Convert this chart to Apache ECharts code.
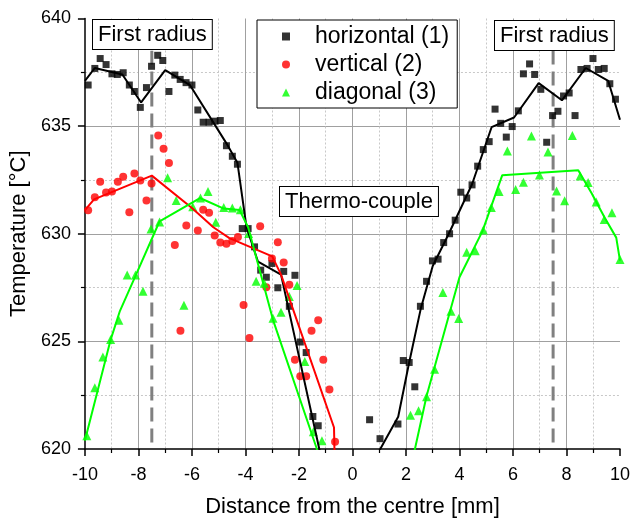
<!DOCTYPE html>
<html>
<head>
<meta charset="utf-8">
<script src="https://cdn.jsdelivr.net/npm/echarts@6/dist/echarts.min.js"></script>
<style>html,body{margin:0;padding:0;background:#fff}#c{width:633px;height:523px}</style>
</head>
<body>
<div id="c"></div>
<script>
// ---- data ----
var horizontalPts = [[-9.88,636.91],[-9.63,637.68],[-9.43,638.14],[-9.21,637.86],[-8.99,637.43],[-8.79,637.40],[-8.57,637.48],[-8.34,636.91],[-8.15,636.61],[-7.93,635.87],[-7.70,636.79],[-7.51,637.78],[-7.28,638.29],[-7.09,638.05],[-6.86,636.61],[-6.64,637.37],[-6.44,637.17],[-6.22,637.02],[-6.00,636.91],[-5.78,635.75],[-5.58,635.18],[-5.36,635.18],[-5.14,635.23],[-4.94,635.26],[-4.71,634.09],[-4.49,633.60],[-4.30,633.23],[-4.12,630.24],[-3.90,630.24],[-3.66,629.39],[-3.43,628.31],[-3.22,627.98],[-3.01,628.62],[-2.79,627.49],[-2.57,628.25],[-2.36,626.63],[-2.15,628.07],[-1.95,624.97],[-1.73,624.48],[-1.48,621.51],[-1.28,621.08],
  [0.64,621.36],[1.03,620.48],[1.70,621.16],[1.90,624.11],[2.12,624.02],[2.33,622.89],[2.54,626.63],[2.77,627.79],[2.99,628.74],[3.20,628.82],[3.41,629.59],[3.63,630.00],[3.84,630.63],[4.05,631.93],[4.27,631.66],[4.47,632.27],[4.68,633.14],[4.89,633.91],[5.11,634.28],[5.33,635.79],[5.54,635.13],[5.75,634.49],[5.97,634.98],[6.20,635.71],[6.39,637.43],[6.62,637.89],[6.81,637.40],[7.04,636.71],[7.26,634.25],[7.48,635.49],[7.68,635.69],[7.89,636.40],[8.10,636.54],[8.32,635.49],[8.54,637.63],[8.77,637.68],[8.99,638.14],[9.19,637.63],[9.41,637.68],[9.62,636.97],[9.83,636.25]];
var verticalPts = [[-9.88,631.09],[-9.63,631.70],[-9.43,632.42],[-9.21,631.92],[-8.99,631.96],[-8.77,632.42],[-8.57,632.65],[-8.34,631.00],[-8.15,632.80],[-7.93,632.47],[-7.70,631.55],[-7.51,632.34],[-7.26,634.57],[-7.06,633.95],[-6.86,633.29],[-6.64,629.48],[-6.43,625.49],[-6.21,630.38],[-5.78,630.15],[-5.58,631.12],[-5.36,630.97],[-5.15,629.92],[-4.94,629.59],[-4.71,629.54],[-4.49,629.66],[-4.28,629.85],[-4.07,626.69],[-3.85,625.16],[-3.45,630.35],[-3.22,627.51],[-3.01,628.85],[-2.79,629.60],[-2.57,628.67],[-2.36,627.63],[-2.15,624.15],[-1.95,623.38],[-1.73,623.38],[-1.53,625.49],[-1.28,625.98],[-1.09,624.15],[-0.86,622.76],[-0.65,620.34]];
var diagonalPts = [[-9.93,620.62],[-9.63,622.84],[-9.33,624.27],[-9.04,625.09],[-8.73,625.98],[-8.42,628.08],[-8.11,628.08],[-7.83,627.33],[-7.53,630.22],[-7.21,630.55],[-6.91,632.60],[-6.59,631.55],[-6.30,626.68],[-5.97,631.25],[-5.68,631.66],[-5.40,631.96],[-5.11,630.54],[-4.81,631.22],[-4.49,631.20],[-4.19,631.12],[-3.88,630.01],[-3.60,627.79],[-3.30,627.70],[-2.97,626.08],[-2.67,626.35],[-2.36,627.09],[-2.07,627.60],[-1.78,624.06],[-1.46,620.80],[-1.14,620.38],
  [2.17,621.57],[2.47,621.78],[2.77,622.43],[3.07,623.71],[3.38,627.27],[3.68,626.40],[3.97,626.06],[4.27,629.14],[4.59,629.21],[4.89,630.18],[5.19,631.22],[5.48,631.96],[5.79,633.85],[6.10,632.05],[6.39,632.39],[6.69,634.54],[6.99,632.73],[7.31,633.80],[7.63,631.99],[7.93,631.53],[8.22,634.56],[8.51,632.68],[8.81,632.38],[9.11,631.47],[9.41,630.66],[9.70,630.97],[10.0,628.80]];
// fitted curves (left / right branches)
var horizontalFitL = [[-10,637.1],[-9.63,637.7],[-8.6,637.4],[-7.9,636.1],[-7.0,637.6],[-6.07,636.9],[-4.71,634.2],[-4.3,633.3],[-3.96,630.3],[-3.53,628.7],[-2.67,628.1],[-1.24,620.0],[-1.2,619.8]];
var horizontalFitR = [[0.95,619.8],[1.71,621.5],[2.1,623.9],[2.55,626.5],[3.0,628.5],[3.6,630.0],[4.47,632.3],[5.2,634.95],[6.04,635.4],[6.96,637.0],[7.83,636.2],[8.72,637.7],[9.56,637.1],[10,635.3]];
var verticalFit = [[-10,631.1],[-9.66,631.6],[-7.5,632.7],[-6.0,631.2],[-5.2,630.3],[-4.6,629.8],[-3.0,628.95],[-2.67,628.1],[-0.69,621.0],[-0.67,619.8]];
var diagonalFitL = [[-10,620.4],[-9.04,625.07],[-8.69,626.42],[-8.11,628.04],[-7.21,630.58],[-5.70,631.66],[-4.81,631.17],[-4.22,631.1],[-3.9,630.3],[-2.97,626.0],[-1.33,620.0],[-1.28,619.8]];
var diagonalFitR = [[2.3,619.8],[2.77,622.46],[4.0,627.98],[4.86,630.12],[5.6,632.72],[8.44,632.95],[8.94,631.88],[9.43,630.74],[9.86,629.82],[10,628.75]];
var firstRadiusL = [[-7.5,620.3],[-7.5,638.5]];
var firstRadiusR = [[7.5,620.3],[7.5,638.5]];
var seriesNames = ['horizontal (1)','vertical (2)','diagonal (3)'];
var annotationTexts = ['First radius','First radius','Thermo-couple'];

var FONT = '"Liberation Sans", Arial, sans-serif';
var GREEN = '#00ff00';
var chart = echarts.init(document.getElementById('c'), null, {renderer:'canvas'});

function axisCommon() {
  return {
    axisLine:{show:true, onZero:false, lineStyle:{color:'#000', width:1.5}},
    axisTick:{show:true, inside:false, length:7, lineStyle:{color:'#000', width:1.5}},
    minorTick:{show:true, splitNumber:2, length:4, lineStyle:{color:'#000', width:1.2}},
    splitLine:{show:true, showMinLine:false, showMaxLine:false, lineStyle:{color:'#a0a0a0', width:1, type:'solid'}},
    minorSplitLine:{show:true, lineStyle:{color:'#c8c8c8', width:1, type:[2,2]}},
    axisLabel:{color:'#000', fontSize:18, fontFamily:FONT},
    nameTextStyle:{color:'#000', fontSize:22, fontFamily:FONT}
  };
}
var xA = axisCommon();
Object.assign(xA, {type:'value', min:-10, max:10, interval:2, name:'Distance from the centre [mm]', nameLocation:'middle', nameGap:47});
xA.axisLabel.margin = 17;
var yA = axisCommon();
Object.assign(yA, {type:'value', min:620, max:640, interval:5, name:'Temperature [°C]', nameLocation:'middle', nameGap:47, nameRotate:90});
yA.axisLabel.margin = 14;

function lineS(name, data, color) {
  return {name:name, type:'line', data:data, symbol:'none', clip:true, z:3,
    lineStyle:{color:color, width:2}, itemStyle:{color:color}, silent:true, animation:false};
}
function dashS(data) {
  return {name:'radius', type:'line', data:data, symbol:'none', z:1,
    lineStyle:{color:'#808080', width:3, type:[14,7]}, animation:false};
}

function boxText(text, left, top) {
  return {type:'text', left:left, top:top, z:100,
    style:{text:text, font:'22px ' + FONT, fill:'#000', backgroundColor:'#fff',
      borderColor:'#000', borderWidth:1, padding:[4,5,3,5]}};
}

chart.setOption({
  animation:false,
  backgroundColor:'#fff',
  grid:{left:82, right:11, top:18.5, bottom:70, containLabel:false},
  xAxis:xA,
  yAxis:yA,
  legend:{data:seriesNames, orient:'vertical', left:257, top:20, padding:[5,8,4,25], itemGap:5,
    itemWidth:8, itemHeight:8, borderColor:'#000', borderWidth:1, backgroundColor:'#fff', z:50,
    textStyle:{fontSize:23, fontFamily:FONT, color:'#000', padding:[0,0,0,20]}},
  graphic:[boxText(annotationTexts[0], 92, 19), boxText(annotationTexts[1], 494, 20), boxText(annotationTexts[2], 279, 186)],
  series:[
    dashS(firstRadiusL), dashS(firstRadiusR),
    {name:seriesNames[0], type:'scatter', data:horizontalPts, symbol:'rect', symbolSize:7, itemStyle:{color:'#000'}, z:2},
    {name:seriesNames[1], type:'scatter', data:verticalPts, symbol:'circle', symbolSize:8, itemStyle:{color:'#ff0000'}, z:2},
    {name:seriesNames[2], type:'scatter', data:diagonalPts, symbol:'triangle', symbolSize:9, itemStyle:{color:GREEN}, z:2},
    lineS('hfitL', horizontalFitL, '#000'),
    lineS('hfitR', horizontalFitR, '#000'),
    lineS('vfit', verticalFit, '#ff0000'),
    lineS('dfitL', diagonalFitL, GREEN),
    lineS('dfitR', diagonalFitR, GREEN)
  ]
});
</script>
</body>
</html>
